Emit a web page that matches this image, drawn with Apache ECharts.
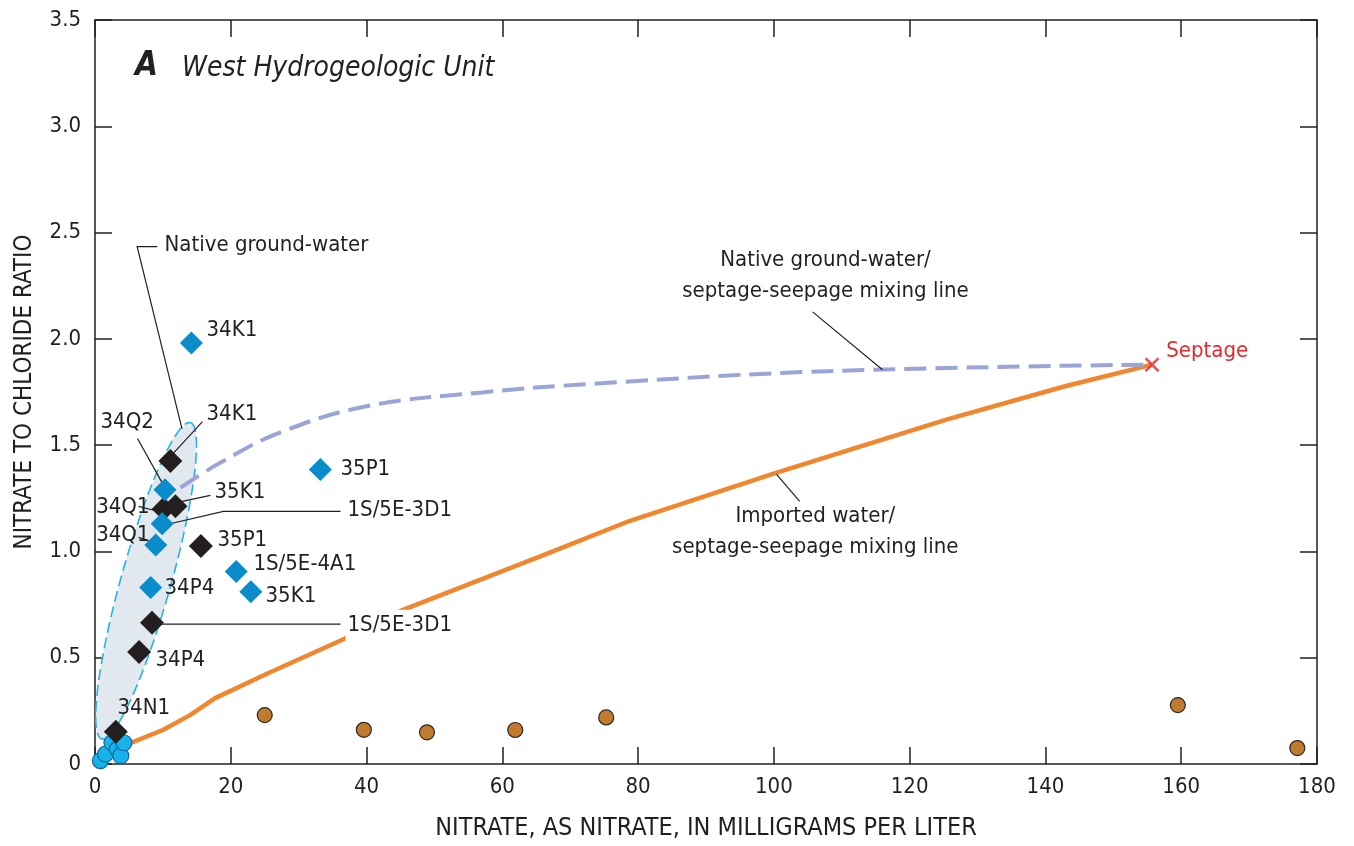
<!DOCTYPE html>
<html>
<head>
<meta charset="utf-8">
<script src="https://cdn.jsdelivr.net/npm/echarts@6/dist/echarts.min.js"></script>
<style>
  html, body { margin: 0; padding: 0; background: #fff; }
  #chart { width: 1354px; height: 846px; }
</style>
</head>
<body>
<div id="chart"></div>
<script>
    // ---- data ----
    var xTicks = [0, 20, 40, 60, 80, 100, 120, 140, 160, 180];
    var yTicks = [0, 0.5, 1.0, 1.5, 2.0, 2.5, 3.0, 3.5];

    // blue diamonds (wells, one sampling)
    var blueDiamonds = [[14.2, 1.98], [10.3, 1.29], [9.9, 1.13], [8.95, 1.03], [8.2, 0.83],
                        [20.8, 0.905], [22.95, 0.81], [33.2, 1.385]];
    // black diamonds (wells, other sampling)
    var blackDiamonds = [[11.1, 1.425], [10.1, 1.2], [11.85, 1.213], [15.6, 1.025],
                         [8.4, 0.665], [6.5, 0.527], [3.07, 0.152]];
    // light blue circles near origin
    var blueCircles = [[0.8, 0.016], [1.55, 0.047], [2.5, 0.10], [3.3, 0.07], [3.8, 0.039], [4.25, 0.10]];
    // brown circles (imported water)
    var brownCircles = [[25.0, 0.23], [39.6, 0.161], [48.9, 0.149], [61.9, 0.16], [75.3, 0.219],
                        [159.5, 0.277], [177.1, 0.075]];
    var septage = [155.7, 1.879];

    var importedLine = [[4.2, 0.085], [10, 0.16], [14, 0.23], [17.7, 0.31], [25, 0.42], [36.6, 0.587],
                        [45, 0.72], [67, 0.994], [78.7, 1.143], [100.3, 1.37], [125.4, 1.62],
                        [142.9, 1.777], [155.7, 1.879]];
    var nativeLine = [[12.6, 1.30], [18.5, 1.418], [27.3, 1.56], [40, 1.683], [57, 1.748],
                      [74, 1.79], [108, 1.848], [155.7, 1.879]];

    // native ground-water envelope: major axis tips
    var envelopeTips = [[14.06, 1.606], [1.0, 0.118]];

    // ---- annotations ----
    var FONT = "'Liberation Sans Narrow', 'DejaVu Sans Condensed', sans-serif";
    var INK = '#231f20';

    var leaders = [
        [[9.16, 2.434], [6.21, 2.434], [12.81, 1.578]],
        [[11.12, 1.447], [15.83, 1.611]],
        [[6.26, 1.531], [9.94, 1.32]],
        [[12.15, 1.231], [17.01, 1.264]],
        [[10.09, 1.123], [18.92, 1.188], [36.16, 1.188]],
        [[6.41, 1.212], [9.35, 1.188]],
        [[6.41, 1.066], [8.47, 1.043]],
        [[9.65, 0.658], [36.16, 0.658]],
        [[105.7, 2.127], [116.0, 1.855]],
        [[100.4, 1.362], [103.8, 1.235]]
    ];

    var labels = [
        {text: '34K1', at: [16.42, 2.039], align: 'left'},
        {text: '34K1', at: [16.42, 1.644], align: 'left'},
        {text: '34Q2', at: [0.81, 1.606], align: 'left'},
        {text: '35K1', at: [17.6, 1.278], align: 'left'},
        {text: '1S/5E-3D1', at: [36.9, 1.193], align: 'left', bg: true},
        {text: '34Q1', at: [8.03, 1.207], align: 'right'},
        {text: '34Q1', at: [8.03, 1.076], align: 'right'},
        {text: '35P1', at: [18.04, 1.052], align: 'left'},
        {text: '1S/5E-4A1', at: [23.34, 0.939], align: 'left'},
        {text: '35K1', at: [25.11, 0.789], align: 'left'},
        {text: '34P4', at: [10.24, 0.827], align: 'left'},
        {text: '1S/5E-3D1', at: [36.9, 0.653], align: 'left', bg: true},
        {text: '34P4', at: [8.91, 0.488], align: 'left'},
        {text: '34N1', at: [3.31, 0.263], align: 'left'},
        {text: '35P1', at: [36.16, 1.386], align: 'left'},
        {text: 'Native ground-water', at: [10.24, 2.438], align: 'left'},
        {text: 'Native ground-water/\nseptage-seepage mixing line', at: [107.6, 2.297], align: 'center'},
        {text: 'Imported water/\nseptage-seepage mixing line', at: [106.1, 1.094], align: 'center'},
        {text: 'Septage', at: [157.8, 1.94], align: 'left', color: '#e8262d'}
    ];

    var chart = echarts.init(document.getElementById('chart'));

    var axisCommon = {
        min: 0,
        axisLine: {onZero: false, lineStyle: {color: INK, width: 1.5}},
        axisTick: {inside: true, length: 17, lineStyle: {color: INK, width: 1.5}},
        splitLine: {show: false}
    };

    var option = {
        animation: false,
        backgroundColor: '#fff',
        grid: {left: 95, right: 37, top: 20, bottom: 81},
        title: {
            left: 130, top: 45,
            text: '{a|A}{b|West Hydrogeologic Unit}',
            textStyle: {
                rich: {
                    a: {fontFamily: FONT, fontSize: 33, fontWeight: 'bold', fontStyle: 'italic', color: INK,
                        padding: [0, 24, 0, 0]},
                    b: {fontFamily: FONT, fontSize: 28, fontWeight: 'normal', fontStyle: 'italic', color: INK,
                        padding: [4, 0, 0, 0]}
                }
            }
        },
        xAxis: [
            Object.assign({}, axisCommon, {
                type: 'value', max: 180, interval: 20, position: 'bottom',
                name: 'NITRATE, AS NITRATE, IN MILLIGRAMS PER LITER',
                nameLocation: 'middle', nameGap: 52,
                nameTextStyle: {fontFamily: FONT, fontSize: 25, color: INK},
                axisLabel: {fontFamily: FONT, fontSize: 22, color: INK, margin: 12}
            }),
            Object.assign({}, axisCommon, {
                type: 'value', max: 180, interval: 20, position: 'top',
                axisLabel: {show: false}
            })
        ],
        yAxis: [
            Object.assign({}, axisCommon, {
                type: 'value', max: 3.5, interval: 0.5, position: 'left',
                name: 'NITRATE TO CHLORIDE RATIO',
                nameLocation: 'middle', nameGap: 58, nameRotate: 90,
                nameTextStyle: {fontFamily: FONT, fontSize: 24, color: INK},
                axisLabel: {
                    fontFamily: FONT, fontSize: 22, color: INK, margin: 14,
                    formatter: function (v) { return v === 0 ? '0' : v.toFixed(1); }
                }
            }),
            Object.assign({}, axisCommon, {
                type: 'value', max: 3.5, interval: 0.5, position: 'right',
                axisLabel: {show: false}
            })
        ],
        series: [
            {
                name: 'envelope',
                type: 'custom',
                z: 1,
                silent: true,
                data: [envelopeTips[0]],
                renderItem: function (params, api) {
                    var a = api.coord(envelopeTips[0]), b = api.coord(envelopeTips[1]);
                    var cx = (a[0] + b[0]) / 2, cy = (a[1] + b[1]) / 2;
                    var dx = a[0] - cx, dy = a[1] - cy;
                    var ra = Math.sqrt(dx * dx + dy * dy), rb = 25;
                    var ux = dx / ra, uy = dy / ra;
                    var pts = [];
                    for (var i = 0; i < 96; i++) {
                        var t = i / 96 * Math.PI * 2;
                        var p = Math.cos(t) * ra, q = Math.sin(t) * rb;
                        pts.push([cx + p * ux - q * uy, cy + p * uy + q * ux]);
                    }
                    return {
                        type: 'polygon',
                        shape: {points: pts},
                        style: {fill: '#e1e9ef', stroke: '#25b2e8', lineWidth: 1.6, lineDash: [11, 5]}
                    };
                }
            },
            {
                name: 'Imported water/septage-seepage mixing line',
                type: 'line',
                z: 2,
                data: importedLine,
                showSymbol: false,
                lineStyle: {color: '#f0862e', width: 4.5},
                silent: true
            },
            {
                name: 'Native ground-water/septage-seepage mixing line',
                type: 'line',
                z: 2,
                data: nativeLine,
                smooth: 0.4,
                showSymbol: false,
                lineStyle: {color: '#9aa4d8', width: 4, type: [22, 9]},
                silent: true
            },
            {
                name: 'leaders',
                type: 'custom',
                z: 3,
                silent: true,
                data: leaders.map(function (l) { return l[0]; }),
                renderItem: function (params, api) {
                    var pts = leaders[params.dataIndex].map(function (p) { return api.coord(p); });
                    return {
                        type: 'polyline',
                        shape: {points: pts},
                        style: {stroke: INK, lineWidth: 1.2, fill: null}
                    };
                }
            },
            {
                name: 'labels',
                type: 'custom',
                z: 4,
                silent: true,
                data: labels.map(function (l) { return l.at; }),
                renderItem: function (params, api) {
                    var l = labels[params.dataIndex];
                    var p = api.coord(l.at);
                    return {
                        type: 'text',
                        x: p[0], y: p[1],
                        style: {
                            text: l.text,
                            fontFamily: FONT,
                            fontSize: 22,
                            lineHeight: 31,
                            fill: l.color || INK,
                            align: l.align,
                            verticalAlign: 'middle',
                            backgroundColor: l.bg ? '#fff' : null,
                            padding: l.bg ? [0, 2] : 0
                        }
                    };
                }
            },
            {
                name: 'Septage',
                type: 'scatter',
                z: 5,
                data: [septage],
                symbol: 'path://M0,0L10,10M10,0L0,10',
                symbolSize: 13,
                itemStyle: {color: 'transparent', borderColor: '#e8262d', borderWidth: 2.6}
            },
            {
                name: 'Imported water',
                type: 'scatter',
                z: 5,
                data: brownCircles,
                symbol: 'circle',
                symbolSize: 15,
                itemStyle: {color: '#c27a2e', borderColor: '#2a2a2a', borderWidth: 1.2, opacity: 1}
            },
            {
                name: 'Native ground water',
                type: 'scatter',
                z: 5,
                data: blueCircles,
                symbol: 'circle',
                symbolSize: 16,
                itemStyle: {color: '#17b2ea', borderColor: '#1565a0', borderWidth: 1.2, opacity: 1}
            },
            {
                name: 'Wells (black)',
                type: 'scatter',
                z: 6,
                data: blackDiamonds,
                symbol: 'diamond',
                symbolSize: 24,
                itemStyle: {color: INK, opacity: 1}
            },
            {
                name: 'Wells (blue)',
                type: 'scatter',
                z: 7,
                data: blueDiamonds,
                symbol: 'diamond',
                symbolSize: 23,
                itemStyle: {color: '#0a8cca', opacity: 1}
            }
        ]
    };

    chart.setOption(option);
</script>
</body>
</html>
